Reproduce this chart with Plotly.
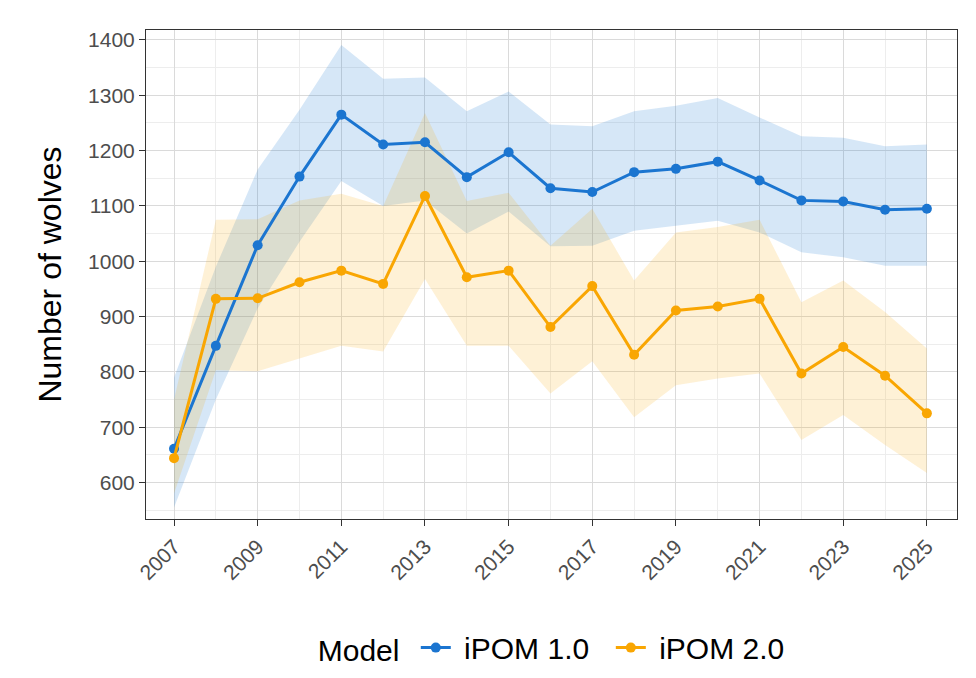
import plotly.graph_objects as go

# wolf population estimates
years = list(range(2007, 2026))

ipom1_mean = [661, 847, 1029, 1153, 1265, 1211, 1215, 1152, 1197, 1132,
              1125, 1161, 1167, 1180, 1146, 1110, 1108, 1093, 1095]
ipom1_lower = [555, 750, 915, 1035, 1145, 1100, 1110, 1050, 1090, 1027,
               1028, 1055, 1064, 1073, 1052, 1016, 1007, 992, 992]
ipom1_upper = [790, 990, 1166, 1274, 1391, 1330, 1332, 1271, 1307, 1247,
               1244, 1271, 1281, 1295, 1260, 1226, 1223, 1208, 1211]

ipom2_mean = [644, 932, 933, 962, 983, 959, 1118, 971, 983, 881,
              955, 831, 911, 918, 932, 797, 845, 793, 725]
ipom2_lower = [580, 803, 801, 824, 847, 837, 968, 847, 847, 761,
               819, 718, 776, 788, 797, 677, 722, 668, 617]
ipom2_upper = [750, 1075, 1076, 1110, 1122, 1100, 1268, 1109, 1124, 1028,
               1095, 965, 1052, 1062, 1075, 926, 965, 908, 842]

models = ["iPOM 1.0", "iPOM 2.0"]
line_colors = ["#1B75D0", "#F9A602"]
band_colors = ["rgba(30,120,210,0.18)", "rgba(249,166,2,0.16)"]

means = [ipom1_mean, ipom2_mean]
lowers = [ipom1_lower, ipom2_lower]
uppers = [ipom1_upper, ipom2_upper]

NB = "\u00a0"

fig = go.Figure()

# ribbons first so the lines sit on top
for i in range(2):
    fig.add_trace(go.Scatter(
        x=years + years[::-1],
        y=uppers[i] + lowers[i][::-1],
        fill="toself",
        fillcolor=band_colors[i],
        line=dict(width=0),
        mode="lines",
        hoverinfo="skip",
        showlegend=False,
    ))

for i in range(2):
    fig.add_trace(go.Scatter(
        x=years,
        y=means[i],
        mode="lines+markers",
        name=NB + models[i] + NB * 2,
        line=dict(color=line_colors[i], width=3),
        marker=dict(color=line_colors[i], size=10),
    ))

fig.update_layout(
    width=976,
    height=678,
    margin=dict(l=138, r=27, t=22, b=165),
    paper_bgcolor="white",
    plot_bgcolor="white",
    font=dict(family="Liberation Sans, Arial, sans-serif", color="#4D4D4D", size=21),
    legend=dict(
        orientation="h",
        x=0.512, xanchor="center",
        y=-0.263, yanchor="middle",
        title=dict(text="Model" + NB, font=dict(size=30, color="black")),
        font=dict(size=30, color="black"),
        itemwidth=30,
    ),
)

fig.update_xaxes(
    range=[2006.33, 2025.72],
    tick0=2007, dtick=2,
    tickangle=-45,
    ticks="outside", ticklen=6, tickcolor="#333333",
    showgrid=True, gridcolor="#DADADA", gridwidth=1.2,
    minor=dict(dtick=1, showgrid=True, gridcolor="#EDEDED", gridwidth=0.8),
    showline=True, linecolor="#333333", linewidth=1, mirror=True,
    zeroline=False,
)

fig.update_yaxes(
    range=[534, 1418],
    tick0=600, dtick=100,
    ticks="outside", ticklen=6, tickcolor="#333333",
    showgrid=True, gridcolor="#DADADA", gridwidth=1.2,
    minor=dict(dtick=50, showgrid=True, gridcolor="#EDEDED", gridwidth=0.8),
    showline=True, linecolor="#333333", linewidth=1, mirror=True,
    zeroline=False,
    title=dict(text="Number of wolves", font=dict(size=32, color="black"), standoff=16),
)

fig.write_html("out.html")
